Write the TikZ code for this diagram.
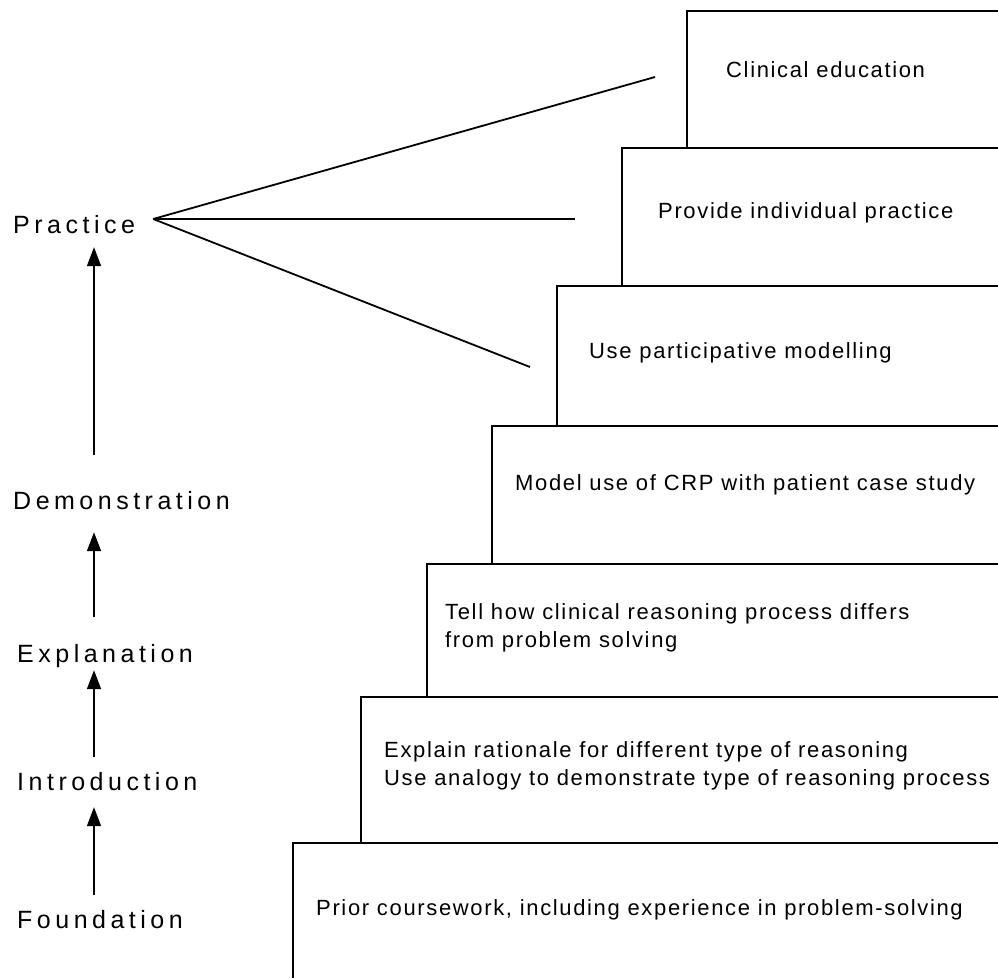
\documentclass[tikz,border=0pt]{standalone}
\usepackage{fontspec}
\setmainfont{Liberation Sans}
\newfontfamily\stagefont[LetterSpace=18]{Liberation Sans}
\newfontfamily\stepfont[LetterSpace=7.5]{Liberation Sans}
\usetikzlibrary{arrows.meta}

\begin{document}
\begin{tikzpicture}[x=1pt, y=-1pt,
    stage/.style={anchor=base west, inner sep=0pt, text height=18pt, text depth=0pt,
                  font=\stagefont\fontsize{25}{30}\selectfont},
    stepbox/.style={anchor=base west, inner sep=0pt, align=left,
                    font=\stepfont\fontsize{22}{28}\selectfont},
    edge/.style={line width=2pt},
    up/.style={line width=1.8pt, -{Triangle[length=19pt,width=14pt]}},
    fan/.style={line width=1.8pt},
]
\useasboundingbox (0,0) rectangle (998,978);

\draw[edge] (998,11) -- (687,11) -- (687,148);
\draw[edge] (998,148) -- (622,148) -- (622,286);
\draw[edge] (998,286) -- (557,286) -- (557,426);
\draw[edge] (998,426) -- (492,426) -- (492,564);
\draw[edge] (998,564) -- (427,564) -- (427,697);
\draw[edge] (998,697) -- (361,697) -- (361,843);
\draw[edge] (998,843) -- (293,843) -- (293,978);

\node[stepbox] (clin) at (726,77) {Clinical education};
\node[stepbox] (indiv) at (658,218) {Provide individual practice};
\node[stepbox] (partic) at (589,358) {Use participative modelling};
\node[stepbox] (model) at (515,490) {Model use of CRP with patient case study};
\node[stepbox] (tell) at (445,647) {Tell how clinical reasoning process differs\\from problem solving};
\node[stepbox] (expln) at (384,785) {Explain rationale for different type of reasoning\\Use analogy to demonstrate type of reasoning process};
\node[stepbox] (prior) at (316,915) {Prior coursework, including experience in problem-solving};

\node[stage] (prac) at (13,233) {Practice};
\node[stage] (demo) at (13,509) {Demonstration};
\node[stage] (expl) at (17,662) {Explanation};
\node[stage] (intro) at (17,790) {Introduction};
\node[stage] (found) at (17,928) {Foundation};

\coordinate (axis) at (94,0);
\draw[up, shorten <=15pt, shorten >=17pt] (found.north -| axis) -- (intro.south -| axis);
\draw[up, shorten <=15pt, shorten >=8pt] (intro.north -| axis) -- (expl.south -| axis);
\draw[up, shorten <=27pt, shorten >=23pt] (expl.north -| axis) -- (demo.south -| axis);
\draw[up, shorten <=36pt, shorten >=14pt] (demo.north -| axis) -- (prac.south -| axis);

\coordinate (apex) at ([xshift=18pt,yshift=5pt]prac.east);
\coordinate (toclin) at (655,77);
\coordinate (toindiv) at (575,219);
\coordinate (topartic) at (530,367);
\draw[fan] (apex) -- (toclin);
\draw[fan] (apex) -- (toindiv);
\draw[fan] (apex) -- (topartic);
\end{tikzpicture}
\end{document}
